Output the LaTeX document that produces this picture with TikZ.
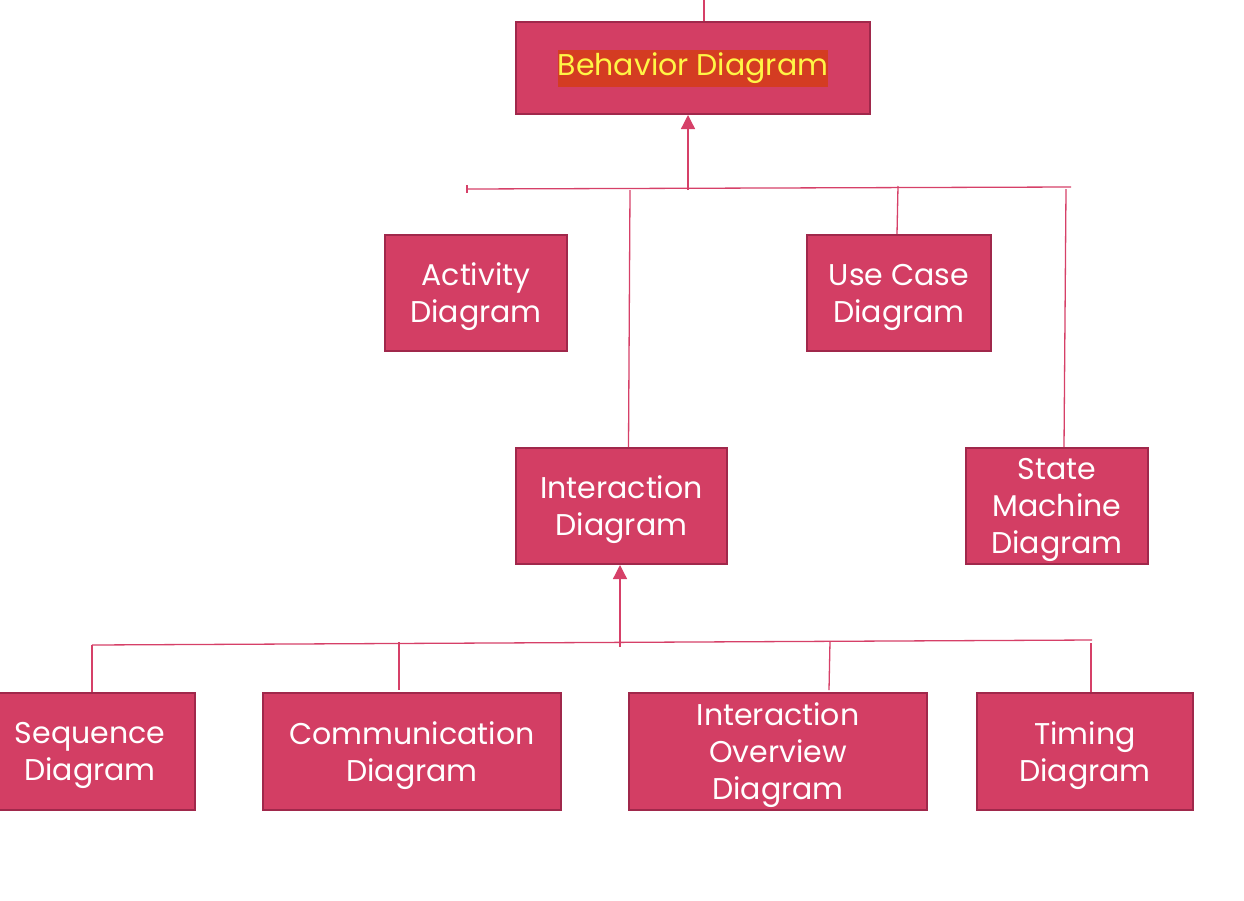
\documentclass[tikz,border=0pt]{standalone}
\usepackage{fontspec}
\setmainfont{Poppins}
\usepackage{tikz}
\usetikzlibrary{arrows.meta,positioning,calc}
\definecolor{boxfill}{RGB}{211,62,100}
\definecolor{boxline}{RGB}{160,40,75}
\definecolor{linkcol}{RGB}{214,64,104}
\definecolor{hilite}{RGB}{212,60,34}
\definecolor{hitext}{RGB}{255,246,70}
\setlength{\fboxsep}{0pt}
\tikzset{
  umlbase/.style={draw=boxline, line width=2pt, fill=boxfill, text=white,
    align=center, inner sep=0pt,
    font=\fontsize{30}{37}\selectfont},
  umlbox/.style={umlbase, text depth=-5pt},
  link/.style={draw=linkcol, line width=1.3pt},
  uparrow/.style={link, -{Triangle[width=14pt,length=14pt]}}
}
\begin{document}
\begin{tikzpicture}[x=1pt,y=-1pt]
\useasboundingbox (0,0) rectangle (1244,900);
% boxes
\node[umlbase, minimum width=354pt, minimum height=92pt] (behav) at (693,68)
  {\colorbox{hilite}{\strut\textcolor{hitext}{Behavior Diagram}}};
\node[umlbox, minimum width=182pt, minimum height=116pt] (activ) at (476,293) {Activity\\Diagram};
\node[umlbox, minimum width=184pt, minimum height=116pt] (usecase) at (899,293) {Use Case\\Diagram};
\node[umlbox, minimum width=211pt, minimum height=116pt] (inter) at (621.5,506) {Interaction\\Diagram};
\node[umlbox, minimum width=182pt, minimum height=116pt] (state) at (1057,506) {State\\Machine\\Diagram};
\node[umlbox, minimum width=210pt, minimum height=117pt] (seq) at (90,751.5) {Sequence\\Diagram};
\node[umlbox, minimum width=298pt, minimum height=117pt] (comm) at (412,751.5) {Communication\\Diagram};
\node[umlbox, minimum width=298pt, minimum height=117pt] (overv) at (778,751.5) {Interaction\\Overview\\Diagram};
\node[umlbox, minimum width=216pt, minimum height=117pt] (timing) at (1085,751.5) {Timing\\Diagram};
% first bus
\coordinate (topend) at (704,0);
\coordinate (busAl) at (467,189);
\coordinate (busAr) at (1071,187);
\coordinate (busAm) at (688,190);
\coordinate (busAi) at (630,190);
\coordinate (busAs) at (1066,189);
\draw[link] (topend) -- (topend |- behav.north);
\draw[link] (busAl) -- (busAr);
\draw[link] ($(busAl)+(0,-4)$) -- ($(busAl)+(0,4)$);
\draw[uparrow] (busAm) -- (busAm |- behav.south);
\draw[link] ($(busAl)+(2,0)$) -- ($(busAl)+(2,0)$ |- activ.north);
\draw[link] (busAi) -- ($(inter.north)+(7,0)$);
\draw[link] (898,186) -- ($(usecase.north)+(-2,0)$);
\draw[link] (busAs) -- ($(state.north)+(7,0)$);
% second bus
\coordinate (busBl) at (92,645);
\coordinate (busBr) at (1092,640);
\coordinate (busBm) at (620,647);
\draw[link] (busBl) -- (busBr);
\draw[uparrow] (busBm) -- (busBm |- inter.south);
\draw[link] (busBl) -- (busBl |- seq.north);
\draw[link] (399,642) -- (399,690);
\draw[link] (830,641) -- (829,690);
\draw[link] (1091,643) -- ($(timing.north)+(6,0)$);
\end{tikzpicture}
\end{document}
